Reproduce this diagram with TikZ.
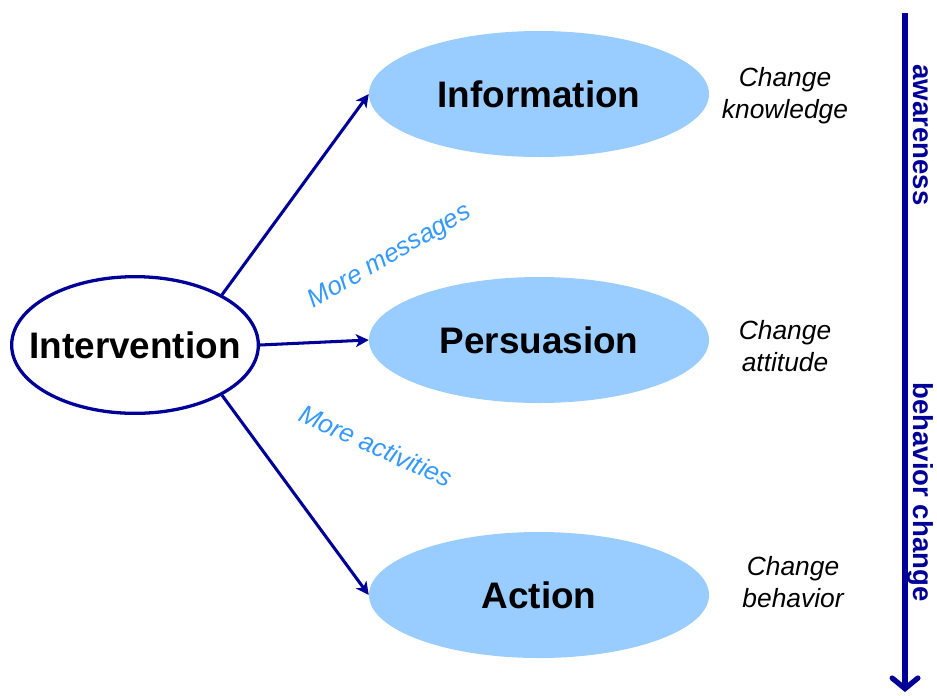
\documentclass[tikz,border=0pt]{standalone}
\usepackage{fontspec}
\setmainfont{Liberation Sans}
\usetikzlibrary{shapes.geometric,arrows.meta}
\definecolor{navy}{HTML}{000099}
\definecolor{skyfill}{HTML}{99CCFF}
\definecolor{msgblue}{HTML}{3399FF}
\begin{document}
\begin{tikzpicture}[x=0.03cm,y=-0.03cm,
		stage/.style={ellipse, fill=skyfill, minimum width=10.2cm, minimum height=3.78cm, inner sep=0pt, font=\fontsize{31.5}{36}\selectfont\bfseries},
		effect/.style={align=center, font=\fontsize{22.5}{27.3}\selectfont\itshape},
		more/.style={text=msgblue, font=\fontsize{22}{26}\selectfont\itshape},
		phase/.style={text=navy, rotate=-90, font=\fontsize{23.5}{28}\selectfont\bfseries},
		link/.style={navy, line width=2.6pt, -{Stealth[length=11pt,width=11pt,inset=3pt]}}]
				\useasboundingbox (0,0) rectangle (937,695);
				\node[ellipse, draw=navy, line width=2.8pt, minimum width=7.4cm, minimum height=4.1cm, inner ysep=0pt, inner xsep=-0.6cm, font=\fontsize{31.5}{36}\selectfont\bfseries] (interv) at (135,345) {Intervention};
				\node[stage] (info) at (539,94) {Information};
				\node[stage] (pers) at (539,340) {Persuasion};
				\node[stage] (act) at (539,595) {Action};
				\draw[link] (interv.30) -- (info.west);
				\draw[link] (interv.east) -- (pers.west);
				\draw[link] (interv.-30) -- (act.west);
				\node[more, rotate=30] (msg) at (390,257) {More messages};
				\node[more, rotate=-24] (actv) at (376,446) {More activities};
				\node[effect] (know) at (785,96) {Change\\knowledge};
				\node[effect] (att) at (785,346) {Change\\attitude};
				\node[effect] (beh) at (793,582) {Change\\behavior};
				\coordinate (top) at (905,13);
				\coordinate (bottom) at (905,692);
				\draw[navy, line width=4.5pt, -{Straight Barb[length=9pt,width=22pt,line cap=round]}] (top) -- (bottom);
				\node[phase] (aware) at (921,135) {awareness};
				\node[phase] (change) at (921,492) {behavior change};
			\end{tikzpicture}
\end{document}
